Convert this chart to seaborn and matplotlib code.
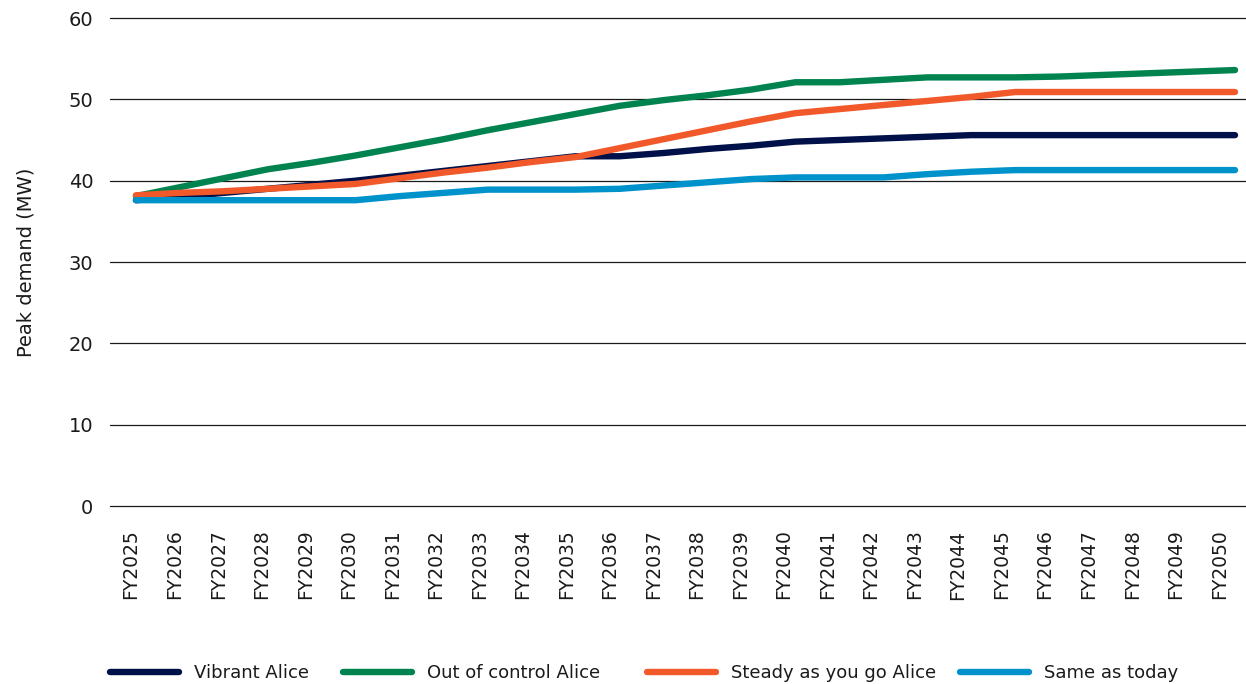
import matplotlib
matplotlib.use("Agg")
import matplotlib.pyplot as plt
from matplotlib.lines import Line2D
import pandas as pd
import seaborn as sns

# Financial years on the x axis
years = ["FY2025", "FY2026", "FY2027", "FY2028", "FY2029", "FY2030", "FY2031",
         "FY2032", "FY2033", "FY2034", "FY2035", "FY2036", "FY2037", "FY2038",
         "FY2039", "FY2040", "FY2041", "FY2042", "FY2043", "FY2044", "FY2045",
         "FY2046", "FY2047", "FY2048", "FY2049", "FY2050"]

# Peak demand (MW) per scenario
vibrant = [37.6, 38.0, 38.5, 39.0, 39.5, 40.0, 40.6, 41.2, 41.8, 42.4, 43.0, 43.0,
           43.4, 43.9, 44.3, 44.8, 45.0, 45.2, 45.4, 45.6, 45.6, 45.6, 45.6, 45.6,
           45.6, 45.6]
out_of_control = [38.1, 39.2, 40.3, 41.4, 42.2, 43.1, 44.1, 45.1, 46.2, 47.2, 48.2,
                  49.2, 49.9, 50.5, 51.2, 52.1, 52.1, 52.4, 52.7, 52.7, 52.7, 52.8,
                  53.0, 53.2, 53.4, 53.6]
steady = [38.2, 38.5, 38.7, 39.0, 39.3, 39.6, 40.3, 41.0, 41.6, 42.3, 42.9, 44.0,
          45.1, 46.2, 47.3, 48.3, 48.8, 49.3, 49.8, 50.3, 50.9, 50.9, 50.9, 50.9,
          50.9, 50.9]
same_as_today = [37.6, 37.6, 37.6, 37.6, 37.6, 37.6, 38.1, 38.5, 38.9, 38.9, 38.9,
                 39.0, 39.4, 39.8, 40.2, 40.4, 40.4, 40.4, 40.8, 41.1, 41.3, 41.3,
                 41.3, 41.3, 41.3, 41.3]

scenarios = ["Vibrant Alice", "Out of control Alice", "Steady as you go Alice", "Same as today"]
series = [vibrant, out_of_control, steady, same_as_today]
colors = ["#00114a", "#00834f", "#f1592a", "#0092cb"]
palette = dict(zip(scenarios, colors))

frames = []
for name, vals in zip(scenarios, series):
    frames.append(pd.DataFrame({"pos": range(len(years)), "year": years,
                                "demand": vals, "scenario": name}))
df = pd.concat(frames, ignore_index=True)

sns.set_theme(style="white")
plt.rcParams["font.family"] = ["DejaVu Sans"]
plt.rcParams["text.color"] = "#1a1a1a"

W, H = 1246, 684
fig = plt.figure(figsize=(W / 100, H / 100), dpi=100)
ax = fig.add_axes([110 / W, 1 - 506 / H, 1 - 110 / W, (506 - 18) / H])

sns.lineplot(data=df, x="pos", y="demand", hue="scenario", hue_order=scenarios,
             palette=palette, linewidth=4.6, sort=False, legend=False, ax=ax)
for ln in ax.lines:
    ln.set_solid_capstyle("round")
    ln.set_solid_joinstyle("round")

ax.set_xlim(-0.59, 25.25)
ax.set_ylim(0, 60)
ax.set_yticks(range(0, 61, 10))

# Category labels sit on a slightly tighter pitch than the plotted points
label_pitch = 0.99
label_shift = -0.11
ax.set_xticks([i * label_pitch + label_shift for i in range(len(years))])
ax.set_xticklabels(years, rotation=90, va="top", ha="center")
ax.tick_params(axis="x", length=0, pad=17, labelsize=13.5, labelcolor="#1a1a1a")
ax.tick_params(axis="y", length=0, pad=12, labelsize=14, labelcolor="#1a1a1a")

ax.yaxis.grid(True, color="#1a1a1a", linewidth=0.9)
ax.xaxis.grid(False)
for gl in ax.get_ygridlines():
    gl.set_clip_on(False)
ax.set_axisbelow(True)
for sp in ax.spines.values():
    sp.set_visible(False)

ax.set_xlabel("")
ax.set_ylabel("Peak demand (MW)", fontsize=14, color="#1a1a1a")
ax.yaxis.set_label_coords(-0.066, 0.5)

# One legend entry per scenario, spread across the bottom of the figure
starts = [110, 343, 647, 960]
for name, col, x0 in zip(scenarios, colors, starts):
    h = Line2D([], [], color=col, linewidth=4.6, solid_capstyle="round")
    fig.legend([h], [name], loc="center left", bbox_to_anchor=(x0 / W, 1 - 673 / H),
               frameon=False, fontsize=13, handlelength=3.8, handletextpad=0.85,
               borderpad=0, borderaxespad=0)

fig.savefig("out.png", dpi=100)
